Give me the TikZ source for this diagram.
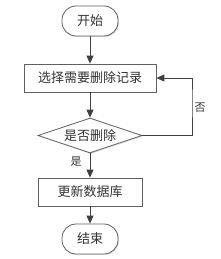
\documentclass[tikz,border=0pt]{standalone}
\usepackage{fontspec}
\newfontfamily\cjk{Noto Sans CJK SC}
\definecolor{lineaGris}{RGB}{64,64,64}
\definecolor{bordeGris}{RGB}{96,96,96}
\usetikzlibrary{shapes.geometric, arrows.meta, positioning, shadows}

\begin{document}
\begin{tikzpicture}[x=1pt,y=-1pt,
  base/.style={draw=bordeGris, fill=white, line width=0.8pt, text=black!80,
    font=\cjk\fontsize{13}{15}\selectfont, inner sep=0pt,
    drop shadow={shadow xshift=1pt, shadow yshift=-1pt, opacity=0.25}},
  terminal/.style={base, rectangle, rounded corners=14pt,
    minimum width=56pt, minimum height=30pt},
  proceso/.style={base, rectangle, minimum height=28pt},
  decision/.style={base, diamond, aspect=3, minimum width=104pt, minimum height=35pt},
  flecha/.style={draw=lineaGris, line width=0.9pt,
    -{Triangle[length=8pt,width=7pt]}},
  etiqueta/.style={font=\cjk\fontsize{11}{13}\selectfont, text=black!80}]
  \useasboundingbox (0,0) rectangle (220,259);
  % Nodos
  \node[terminal] (inicio) at (90,21) {开始};
  \node[proceso, minimum width=132pt] (elegir) at (90,78) {选择需要删除记录};
  \node[decision] (borrar) at (90,135.5) {是否删除};
  \node[proceso, minimum width=104pt] (actualizar) at (90,192) {更新数据库};
  \node[terminal] (fin) at (90,239) {结束};
  \coordinate (vuelta) at (192,100);
  % Flechas
  \draw[flecha] (inicio) -- (elegir);
  \draw[flecha] (elegir) -- (borrar);
  \draw[flecha] (borrar) -- (actualizar);
  \draw[flecha] (actualizar) -- (fin);
  \draw[flecha] (borrar.east) -| (vuelta) |- (elegir.east);
  % Etiquetas
  \node[etiqueta] (si) at (76,162) {是};
  \node[etiqueta] (no) at (200,108) {否};
\end{tikzpicture}
\end{document}
